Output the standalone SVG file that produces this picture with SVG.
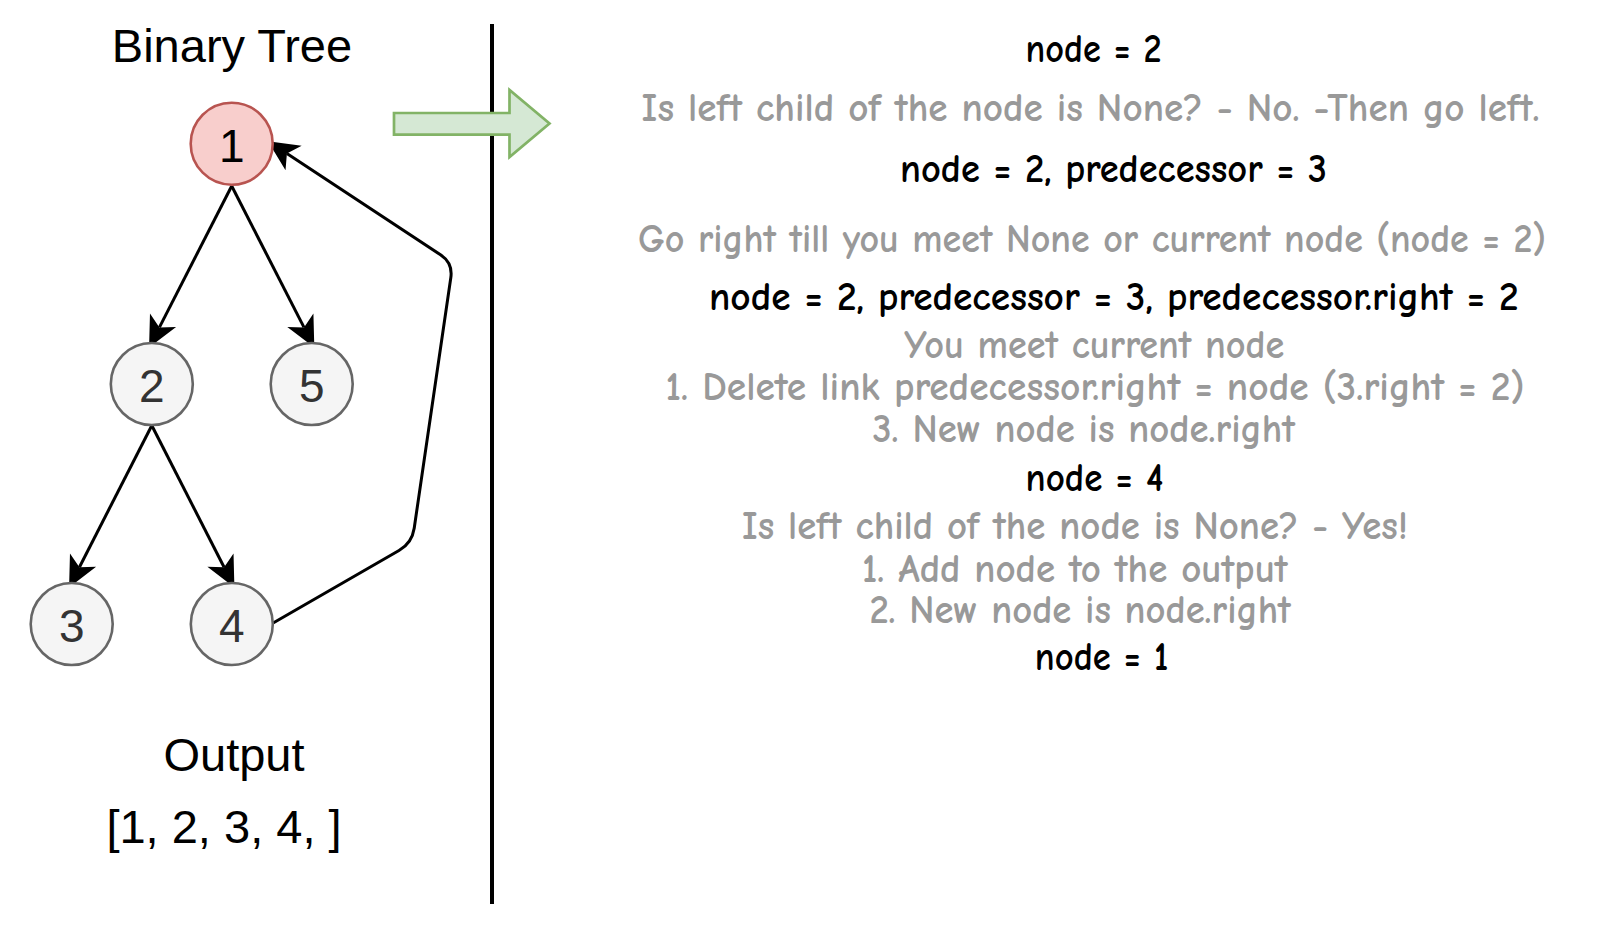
<svg xmlns="http://www.w3.org/2000/svg" width="1604" height="934" viewBox="0 0 1604 934">
  <style>
    .lbl { font-family: "Liberation Sans", Arial, Helvetica, sans-serif; font-size: 47px; fill: #000; }
    .num { font-family: "Liberation Sans", Arial, Helvetica, sans-serif; font-size: 46px; text-anchor: middle; fill: #333333; }
    .node { fill: #f5f5f5; stroke: #666666; stroke-width: 2.6; }
    .root { fill: #f8cecc; stroke: #b85450; stroke-width: 2.6; }
    .edge { fill: none; stroke: #000; stroke-width: 3; }
    .step { font-family: "Comic Sans MS", "Comic Neue", "Noto Sans", sans-serif; font-size: 40px; font-weight: 700; }
    .blk { fill: #000000; }
    .gry { fill: #999999; }
  </style>
  <defs>
    <marker id="arr" markerUnits="userSpaceOnUse" markerWidth="40" markerHeight="40" viewBox="-10 -15 30 30" refX="0" refY="0" orient="auto">
      <path d="M17,0 L-6,-11 L0,0 L-6,11 Z" fill="#000"/>
    </marker>
  </defs>
  <rect width="1604" height="934" fill="#ffffff"/>

  <g id="divider">
    <line x1="492" y1="24" x2="492" y2="904" stroke="#000" stroke-width="4"/>
  </g>

  <g id="green-arrow">
    <path d="M394,113 L509.5,113 L509.5,90 L549.5,123.5 L509.5,157 L509.5,134.7 L394,134.7 Z" fill="#d5e8d4" stroke="#82b366" stroke-width="2.7" stroke-linejoin="miter"/>
  </g>

  <g id="title">
    <text class="lbl" x="232" y="61.7" text-anchor="middle">Binary Tree</text>
  </g>

  <g id="connectors">
    <path class="edge" d="M231.7,186 L159.4,327.4" marker-end="url(#arr)"/>
    <path class="edge" d="M231.7,186 L304,327.4" marker-end="url(#arr)"/>
    <path class="edge" d="M151.8,425.5 L79.4,567.2" marker-end="url(#arr)"/>
    <path class="edge" d="M151.8,425.5 L224.1,567.2" marker-end="url(#arr)"/>
    <path class="edge" d="M272.7,623.3 L399,550.5 Q412,543 414.2,528.2 L450.8,277.8 Q453,263 440.5,254.8 L286.9,153.6" marker-end="url(#arr)"/>
  </g>

  <g id="node-1">
    <circle class="root" cx="231.7" cy="143.7" r="41"/>
    <text class="num" x="231.7" y="161.7" style="fill:#000">1</text>
  </g>
  <g id="node-2">
    <circle class="node" cx="151.8" cy="384" r="41"/>
    <text class="num" x="151.8" y="402">2</text>
  </g>
  <g id="node-5">
    <circle class="node" cx="311.7" cy="384" r="41"/>
    <text class="num" x="311.7" y="402">5</text>
  </g>
  <g id="node-3">
    <circle class="node" cx="71.7" cy="624" r="41"/>
    <text class="num" x="71.7" y="642">3</text>
  </g>
  <g id="node-4">
    <circle class="node" cx="231.8" cy="624" r="41"/>
    <text class="num" x="231.8" y="642">4</text>
  </g>

  <g id="output">
    <text class="lbl" x="234" y="771.3" text-anchor="middle">Output</text>
    <text class="lbl" x="224" y="843" text-anchor="middle">[1, 2, 3, 4, ]</text>
  </g>

  <g id="steps">
    <text class="step blk" x="1025.6" y="61.7" textLength="136" lengthAdjust="spacingAndGlyphs">node = 2</text>
    <text class="step gry" x="641.6" y="121" textLength="898" lengthAdjust="spacingAndGlyphs">Is left child of the node is None? - No. -Then go left.</text>
    <text class="step blk" x="900" y="181.7" textLength="427" lengthAdjust="spacingAndGlyphs">node = 2, predecessor = 3</text>
    <text class="step gry" x="638" y="251.7" textLength="908" lengthAdjust="spacingAndGlyphs">Go right till you meet None or current node (node = 2)</text>
    <text class="step blk" x="709" y="310" textLength="809.6" lengthAdjust="spacingAndGlyphs">node = 2, predecessor = 3, predecessor.right = 2</text>
    <text class="step gry" x="904.3" y="358.3" textLength="380" lengthAdjust="spacingAndGlyphs">You meet current node</text>
    <text class="step gry" x="665.5" y="400.3" textLength="859" lengthAdjust="spacingAndGlyphs">1. Delete link predecessor.right = node (3.right = 2)</text>
    <text class="step gry" x="872.5" y="441.9" textLength="422.5" lengthAdjust="spacingAndGlyphs">3. New node is node.right</text>
    <text class="step blk" x="1025.6" y="490.7" textLength="137.8" lengthAdjust="spacingAndGlyphs">node = 4</text>
    <text class="step gry" x="742" y="539.3" textLength="666" lengthAdjust="spacingAndGlyphs">Is left child of the node is None? - Yes!</text>
    <text class="step gry" x="862" y="581.7" textLength="425.6" lengthAdjust="spacingAndGlyphs">1. Add node to the output</text>
    <text class="step gry" x="869.4" y="623.3" textLength="421.4" lengthAdjust="spacingAndGlyphs">2. New node is node.right</text>
    <text class="step blk" x="1034.8" y="670" textLength="133.5" lengthAdjust="spacingAndGlyphs">node = 1</text>
  </g>
</svg>
